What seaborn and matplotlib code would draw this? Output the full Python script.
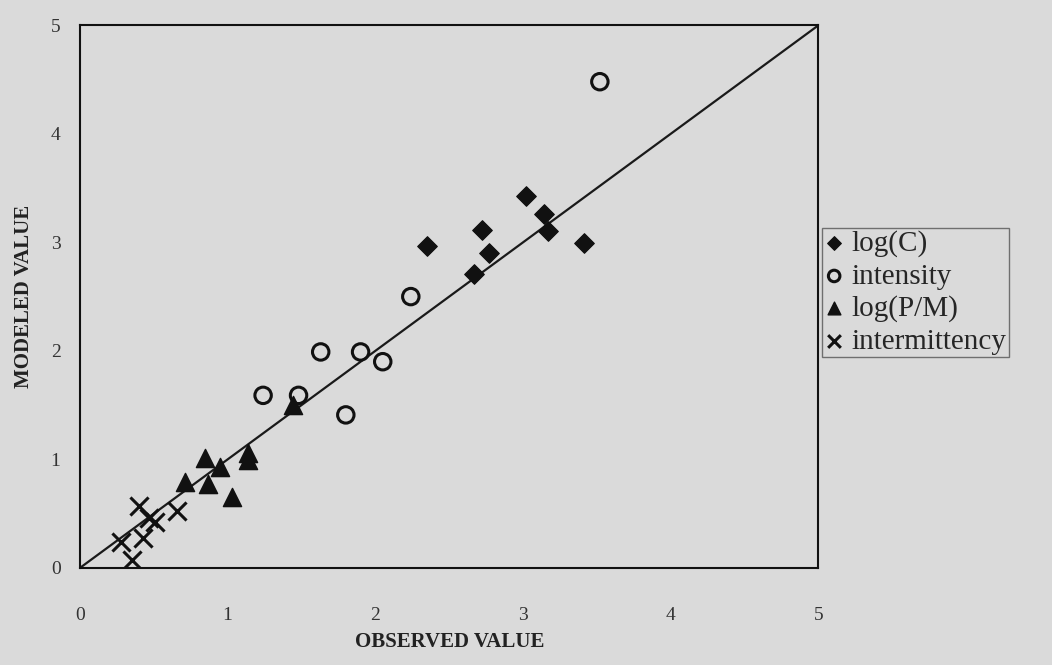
import matplotlib
matplotlib.use("Agg")
import matplotlib.pyplot as plt
import seaborn as sns
import pandas as pd

logc_obs = [2.35, 2.67, 2.72, 2.77, 3.02, 3.14, 3.17, 3.41]
logc_mod = [2.97, 2.71, 3.11, 2.90, 3.43, 3.26, 3.10, 2.99]
int_obs = [1.24, 1.48, 1.63, 1.80, 1.90, 2.05, 2.24, 3.52]
int_mod = [1.59, 1.59, 1.99, 1.41, 1.99, 1.90, 2.50, 4.48]
pm_obs = [0.71, 0.85, 0.87, 0.95, 1.03, 1.14, 1.14, 1.44]
pm_mod = [0.79, 1.01, 0.77, 0.93, 0.65, 1.06, 0.99, 1.50]
int_obs_x = [0.28, 0.35, 0.40, 0.43, 0.47, 0.51, 0.66]
int_mod_x = [0.24, 0.07, 0.57, 0.28, 0.46, 0.42, 0.52]
ticks = [0, 1, 2, 3, 4, 5]

sns.set_style("white")
plt.rcParams['font.family'] = ['Liberation Serif', 'DejaVu Serif']
bg = "#dadada"
fig = plt.figure(figsize=(10.52, 6.65), dpi=100, facecolor=bg)
ax = fig.add_axes([0.076, 0.146, 0.702, 0.816])
ax.set_facecolor(bg)

ax.plot([0, 5], [0, 5], color="#1a1a1a", lw=1.6, zorder=1)

sns.scatterplot(x=logc_obs, y=logc_mod, ax=ax, marker="D", s=100, color="#111111",
                edgecolor="#111111", label="log(C)", zorder=3)
sns.scatterplot(x=int_obs, y=int_mod, ax=ax, marker="o", s=140, facecolor="none",
                edgecolor="#111111", linewidth=2.2, label="intensity", zorder=3)
sns.scatterplot(x=pm_obs, y=pm_mod, ax=ax, marker="^", s=170, color="#111111",
                edgecolor="#111111", label="log(P/M)", zorder=3)
sns.scatterplot(x=int_obs_x, y=int_mod_x, ax=ax, marker="x", s=170, color="#111111",
                linewidth=2.2, label="intermittency", zorder=3)

ax.set_xlim(0, 5)
ax.set_ylim(0, 5)
ax.set_xticks(ticks)
ax.set_yticks(ticks)
ax.set_xticklabels([str(t) for t in ticks], fontsize=14, color="#333333")
ax.set_yticklabels([str(t) for t in ticks], fontsize=14, color="#333333")
ax.tick_params(direction="out", length=6, width=1, colors="#333333")
ax.tick_params(axis="x", pad=22)
ax.tick_params(axis="y", pad=8)
for sp in ax.spines.values():
    sp.set_color("#111111")
    sp.set_linewidth(1.5)

ax.set_xlabel("OBSERVED VALUE", fontsize=15, fontweight="bold", color="#222222", labelpad=6)
ax.set_ylabel("MODELED VALUE", fontsize=15, fontweight="bold", color="#222222", labelpad=12)

h, l = ax.get_legend_handles_labels()
if ax.legend_:
    ax.legend_.remove()
leg = fig.legend(h, l, loc="upper left", bbox_to_anchor=(0.781, 0.657), fontsize=21,
                 frameon=True, fancybox=False, edgecolor="#555555", facecolor=bg,
                 handletextpad=0.25, handlelength=0.7, borderpad=0.08, labelspacing=0.2,
                 markerscale=0.7, borderaxespad=0)
leg.get_frame().set_linewidth(1.0)

fig.savefig("out.png", dpi=100, facecolor=bg)
